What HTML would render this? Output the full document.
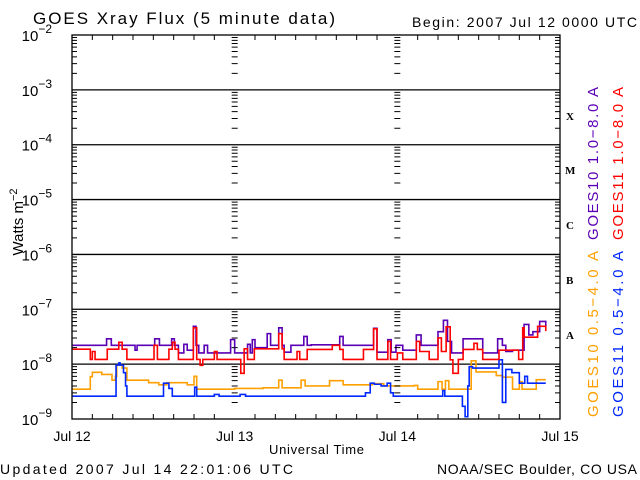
<!DOCTYPE html>
<html><head><meta charset="utf-8"><style>
body{margin:0;background:#fff;}
svg{display:block;font-family:"Liberation Sans",sans-serif;}
</style></head><body>
<svg id="chart" width="640" height="480" viewBox="0 0 640 480">
<rect width="640" height="480" fill="#fff"/>
<text x="33" y="24" font-size="17" textLength="302" lengthAdjust="spacing">GOES Xray Flux (5 minute data)</text>
<text x="412" y="27" font-size="14" textLength="225" lengthAdjust="spacing">Begin:  2007 Jul 12 0000 UTC</text>
<text x="0" y="474" font-size="14" textLength="293" lengthAdjust="spacing">Updated 2007 Jul 14 22:01:06 UTC</text>
<text x="437" y="474" font-size="14" textLength="200" lengthAdjust="spacing">NOAA/SEC Boulder, CO USA</text>
<text x="269" y="454" font-size="13" textLength="95" lengthAdjust="spacing">Universal Time</text>
<text transform="translate(23,222) rotate(-90)" font-size="15" text-anchor="middle">Watts m<tspan dy="-6" font-size="11">−2</tspan></text>
<g id="grid"></g><g id="series"></g><g id="axes"></g><g id="labels"></g>
<g font-family="Liberation Serif,serif" font-weight="bold" font-size="11">
<text x="566" y="120">X</text>
<text x="565" y="174">M</text>
<text x="566" y="229">C</text>
<text x="566" y="284">B</text>
<text x="566" y="339">A</text>
</g>
<g font-size="15">
<text transform="translate(598,240) rotate(-90)" textLength="153" lengthAdjust="spacing" fill="#5a00b4">GOES10 1.0−8.0 A</text>
<text transform="translate(623,240) rotate(-90)" textLength="153" lengthAdjust="spacing" fill="#ff0000">GOES11 1.0−8.0 A</text>
<text transform="translate(598,417) rotate(-90)" textLength="166" lengthAdjust="spacing" fill="#ffa000">GOES10 0.5−4.0 A</text>
<text transform="translate(623,417) rotate(-90)" textLength="166" lengthAdjust="spacing" fill="#0028ff">GOES11 0.5−4.0 A</text>
</g>
</svg>
<script>
const dayLabels=["Jul 12","Jul 13","Jul 14","Jul 15"];
const decadeExps=[-2,-3,-4,-5,-6,-7,-8,-9];
const g10LongH=[0,5.1,5.8,9.3,9.6,12.2,12.9,14.7,15.1,15.7,16.5,17.0,17.9,18.3,18.7,19.5,20.0,23.4,24.0,25.9,26.3,26.6,27.0,28.8,29.3,30.5,31.0,31.3,32.3,34.2,34.7,35.3,39.5,40.0,44.5,45.0,46.6,47.1,47.8,48.8,50.8,51.5,54.0,54.8,55.4,56.0,57.7,60.6,62.8,63.5,64.0,65.0,66.7,67.4,68.0,69.0,69.9];
const g10LongV=[2.2,2.9,2.2,1.8,2.2,2.9,2.2,2.9,2.2,1.6,2.3,1.8,4.9,2.2,1.6,2.2,1.6,2.8,1.6,2.3,1.6,2.8,2.0,3.6,2.2,4.6,2.2,1.65,2.2,3.2,2.2,2.25,3.2,2.2,4.5,1.65,2.8,1.65,2.2,1.8,3.4,2.2,3.9,6.3,2.6,1.6,2.9,1.6,2.9,2.2,1.7,1.8,5.3,3.4,3.9,6.0,4.9];
const g11LongH=[0,2.7,3.0,3.4,5.2,6.9,7.4,8.1,12.1,12.6,12.9,14.3,14.8,15.2,15.7,17.9,18.4,18.9,19.3,21.0,21.4,24.0,24.9,25.4,25.9,26.9,27.4,30.5,31.0,31.3,33.2,33.6,34.7,37.7,38.4,39.5,40.0,41.1,43.0,44.5,45.0,46.6,47.0,48.0,48.8,50.8,51.3,52.7,54.0,54.5,55.2,55.8,56.2,57.0,57.7,59.3,59.8,60.6,63.0,65.9,66.5,66.7,67.2,68.7,69.9];
const g11LongV=[1.87,1.22,1.7,1.22,1.87,2.5,1.87,1.22,2.2,1.22,1.22,1.87,2.5,1.87,1.22,4.6,1.22,0.95,1.22,1.7,1.22,1.22,0.68,1.9,1.22,1.9,1.9,3.6,1.9,1.22,1.7,1.22,1.85,1.85,2.2,1.85,1.22,1.22,1.85,4.4,1.22,2.6,1.22,1.6,1.22,2.6,1.7,1.22,3.0,1.7,4.8,1.2,0.68,1.22,1.85,2.4,1.85,1.22,1.8,1.22,4.6,3.1,3.1,4.9,4.0];
const g10ShortH=[0,2.7,3.0,4.4,5.9,6.4,6.6,7.4,8.1,11.3,12.8,14.0,17.0,18.0,18.4,24.0,28.2,30.5,31.0,33.8,34.4,34.9,38.0,40.0,44.3,46.0,50.5,51.0,54.0,54.6,55.1,55.6,58.9,59.6,62.6,63.5,65.0,66.0,66.4,68.5,69.9];
const g10ShortV=[0.35,0.59,0.71,0.65,0.51,0.6,0.96,0.85,0.51,0.46,0.42,0.46,0.42,0.6,0.35,0.36,0.37,0.51,0.37,0.51,0.4,0.4,0.5,0.42,0.44,0.4,0.41,0.35,0.48,0.35,0.5,0.35,1.15,0.72,0.62,0.58,0.35,0.48,0.35,0.52,0.52];
const g11ShortH=[0,6.5,6.9,7.1,7.6,7.9,8.1,13.5,14.3,14.8,18.1,18.4,21.0,21.7,24.8,25.6,43.3,44.0,44.6,45.6,46.5,47.0,47.4,54.7,55.0,57.6,58.0,58.4,58.6,59.1,63.0,63.5,64.0,64.9,66.0,66.8,67.2,69.9];
const g11ShortV=[0.26,0.96,1.05,0.96,0.7,0.4,0.26,0.45,0.36,0.26,0.38,0.26,0.28,0.26,0.28,0.26,0.3,0.45,0.43,0.4,0.45,0.3,0.26,0.33,0.26,0.17,0.11,0.4,0.9,0.85,1.2,0.2,0.8,0.7,0.45,0.6,0.45,0.45];
const L=72,R=560,T=35,B=419;
const xS=h=>L+h*(R-L)/72;
const yS=v=>B-(Math.log10(v)+9)*(B-T)/7;
const NS="http://www.w3.org/2000/svg";
function mk(tag,attrs,parent){const e=document.createElementNS(NS,tag);for(const k in attrs)e.setAttribute(k,attrs[k]);parent.appendChild(e);return e;}
const grid=document.getElementById('grid'),axes=document.getElementById('axes'),labels=document.getElementById('labels'),series=document.getElementById('series');
decadeExps.forEach(e=>{
  const y=yS(Math.pow(10,e));
  if(e>-9&&e<-2){const ln=mk('line',{x1:L,x2:R,y1:y,y2:y,stroke:'#000','stroke-width':1.3},grid);
  
  }
  const t=mk('text',{x:52,y:y+6,'font-size':15,'text-anchor':'end'},labels);
  t.textContent='10';
  const s=mk('tspan',{dy:-8,'font-size':12},t);s.textContent='−'+(-e);
  
  
});
let d='';
for(let e=-9;e<-2;e++){for(let m=2;m<=9;m++){const y=yS(m*Math.pow(10,e));
 d+=`M${L} ${y}h5M${R} ${y}h-5M${xS(24)-3} ${y}h6M${xS(48)-3} ${y}h6`;}}
for(let h=3;h<72;h+=3){if(h%24==0)continue;d+=`M${xS(h)} ${B}v-5M${xS(h)} ${T}v5`;}
mk('path',{d:d,stroke:'#000','stroke-width':1,fill:'none'},axes);
const frame=mk('rect',{x:L,y:T,width:R-L,height:B-T,fill:'none',stroke:'#000','stroke-width':1.3},axes);


dayLabels.forEach((lab,i)=>{const t=mk('text',{x:xS(i*24),y:441,'font-size':14,'text-anchor':'middle'},labels);t.textContent=lab;

});
function draw(H,V,color,name){
  let p='';const lo=1.05e-9;
  H.forEach((h,i)=>{const v=Math.max(V[i]*1e-8,lo);const x=xS(h),y=yS(v);
    if(i==0)p+=`M${x} ${y}`;else p+=`H${x}V${y}`;});
  const ln=mk('path',{d:p,fill:'none',stroke:color,'stroke-width':1.6},series);
  
  
}
draw(g10ShortH,g10ShortV,'#ffa000','series-goes10-short');
draw(g11ShortH,g11ShortV,'#0028ff','series-goes11-short');
draw(g10LongH,g10LongV,'#5a00b4','series-goes10-long');
draw(g11LongH,g11LongV,'#ff0000','series-goes11-long');
</script>
</body></html>
